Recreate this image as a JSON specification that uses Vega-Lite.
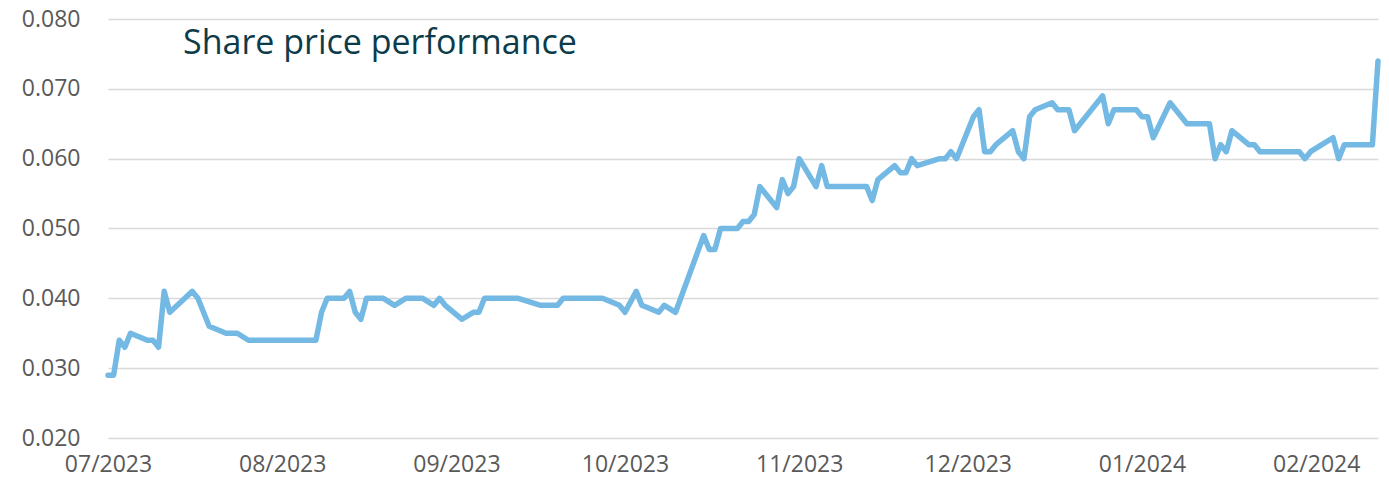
{
  "$schema": "https://vega.github.io/schema/vega-lite/v6.json",
  "width": 1270,
  "height": 419,
  "autosize": {"type": "none"},
  "padding": {"left": 108, "top": 19, "right": 11, "bottom": 40},
  "background": "white",
  "config": {"view": {"stroke": null}, "font": "Open Sans"},
  "title": {
    "text": "Share price performance",
    "anchor": "start",
    "frame": "group",
    "font": "Open Sans",
    "fontSize": 34,
    "fontWeight": "normal",
    "color": "#0c3c4a",
    "baseline": "alphabetic",
    "offset": 0,
    "dx": 75,
    "dy": 80
  },
  "data": {
    "values": [
      {"date": "2023-07-01", "price": 0.029},
      {"date": "2023-07-02", "price": 0.029},
      {"date": "2023-07-03", "price": 0.034},
      {"date": "2023-07-04", "price": 0.033},
      {"date": "2023-07-05", "price": 0.035},
      {"date": "2023-07-08", "price": 0.034},
      {"date": "2023-07-09", "price": 0.034},
      {"date": "2023-07-10", "price": 0.033},
      {"date": "2023-07-11", "price": 0.041},
      {"date": "2023-07-12", "price": 0.038},
      {"date": "2023-07-16", "price": 0.041},
      {"date": "2023-07-17", "price": 0.040},
      {"date": "2023-07-19", "price": 0.036},
      {"date": "2023-07-22", "price": 0.035},
      {"date": "2023-07-24", "price": 0.035},
      {"date": "2023-07-26", "price": 0.034},
      {"date": "2023-08-07", "price": 0.034},
      {"date": "2023-08-08", "price": 0.038},
      {"date": "2023-08-09", "price": 0.040},
      {"date": "2023-08-12", "price": 0.040},
      {"date": "2023-08-13", "price": 0.041},
      {"date": "2023-08-14", "price": 0.038},
      {"date": "2023-08-15", "price": 0.037},
      {"date": "2023-08-16", "price": 0.040},
      {"date": "2023-08-19", "price": 0.040},
      {"date": "2023-08-21", "price": 0.039},
      {"date": "2023-08-23", "price": 0.040},
      {"date": "2023-08-26", "price": 0.040},
      {"date": "2023-08-28", "price": 0.039},
      {"date": "2023-08-29", "price": 0.040},
      {"date": "2023-08-30", "price": 0.039},
      {"date": "2023-09-02", "price": 0.037},
      {"date": "2023-09-04", "price": 0.038},
      {"date": "2023-09-05", "price": 0.038},
      {"date": "2023-09-06", "price": 0.040},
      {"date": "2023-09-12", "price": 0.040},
      {"date": "2023-09-16", "price": 0.039},
      {"date": "2023-09-19", "price": 0.039},
      {"date": "2023-09-20", "price": 0.040},
      {"date": "2023-09-27", "price": 0.040},
      {"date": "2023-09-30", "price": 0.039},
      {"date": "2023-10-01", "price": 0.038},
      {"date": "2023-10-03", "price": 0.041},
      {"date": "2023-10-04", "price": 0.039},
      {"date": "2023-10-07", "price": 0.038},
      {"date": "2023-10-08", "price": 0.039},
      {"date": "2023-10-10", "price": 0.038},
      {"date": "2023-10-15", "price": 0.049},
      {"date": "2023-10-16", "price": 0.047},
      {"date": "2023-10-17", "price": 0.047},
      {"date": "2023-10-18", "price": 0.050},
      {"date": "2023-10-21", "price": 0.050},
      {"date": "2023-10-22", "price": 0.051},
      {"date": "2023-10-23", "price": 0.051},
      {"date": "2023-10-24", "price": 0.052},
      {"date": "2023-10-25", "price": 0.056},
      {"date": "2023-10-28", "price": 0.053},
      {"date": "2023-10-29", "price": 0.057},
      {"date": "2023-10-30", "price": 0.055},
      {"date": "2023-10-31", "price": 0.056},
      {"date": "2023-11-01", "price": 0.060},
      {"date": "2023-11-04", "price": 0.056},
      {"date": "2023-11-05", "price": 0.059},
      {"date": "2023-11-06", "price": 0.056},
      {"date": "2023-11-13", "price": 0.056},
      {"date": "2023-11-14", "price": 0.054},
      {"date": "2023-11-15", "price": 0.057},
      {"date": "2023-11-18", "price": 0.059},
      {"date": "2023-11-19", "price": 0.058},
      {"date": "2023-11-20", "price": 0.058},
      {"date": "2023-11-21", "price": 0.060},
      {"date": "2023-11-22", "price": 0.059},
      {"date": "2023-11-26", "price": 0.060},
      {"date": "2023-11-27", "price": 0.060},
      {"date": "2023-11-28", "price": 0.061},
      {"date": "2023-11-29", "price": 0.060},
      {"date": "2023-12-02", "price": 0.066},
      {"date": "2023-12-03", "price": 0.067},
      {"date": "2023-12-04", "price": 0.061},
      {"date": "2023-12-05", "price": 0.061},
      {"date": "2023-12-06", "price": 0.062},
      {"date": "2023-12-09", "price": 0.064},
      {"date": "2023-12-10", "price": 0.061},
      {"date": "2023-12-11", "price": 0.060},
      {"date": "2023-12-12", "price": 0.066},
      {"date": "2023-12-13", "price": 0.067},
      {"date": "2023-12-16", "price": 0.068},
      {"date": "2023-12-17", "price": 0.067},
      {"date": "2023-12-19", "price": 0.067},
      {"date": "2023-12-20", "price": 0.064},
      {"date": "2023-12-25", "price": 0.069},
      {"date": "2023-12-26", "price": 0.065},
      {"date": "2023-12-27", "price": 0.067},
      {"date": "2023-12-31", "price": 0.067},
      {"date": "2024-01-01", "price": 0.066},
      {"date": "2024-01-02", "price": 0.066},
      {"date": "2024-01-03", "price": 0.063},
      {"date": "2024-01-06", "price": 0.068},
      {"date": "2024-01-09", "price": 0.065},
      {"date": "2024-01-13", "price": 0.065},
      {"date": "2024-01-14", "price": 0.060},
      {"date": "2024-01-15", "price": 0.062},
      {"date": "2024-01-16", "price": 0.061},
      {"date": "2024-01-17", "price": 0.064},
      {"date": "2024-01-20", "price": 0.062},
      {"date": "2024-01-21", "price": 0.062},
      {"date": "2024-01-22", "price": 0.061},
      {"date": "2024-01-29", "price": 0.061},
      {"date": "2024-01-30", "price": 0.060},
      {"date": "2024-01-31", "price": 0.061},
      {"date": "2024-02-02", "price": 0.062},
      {"date": "2024-02-04", "price": 0.063},
      {"date": "2024-02-05", "price": 0.060},
      {"date": "2024-02-06", "price": 0.062},
      {"date": "2024-02-11", "price": 0.062},
      {"date": "2024-02-12", "price": 0.074}
    ]
  },
  "mark": {
    "type": "line",
    "color": "#74b9e4",
    "strokeWidth": 5.5,
    "strokeJoin": "round",
    "strokeCap": "round"
  },
  "encoding": {
    "x": {
      "field": "date",
      "type": "temporal",
      "scale": {"type": "utc", "nice": false},
      "axis": {
        "title": null,
        "format": "%m/%Y",
        "values": [
          {"year": 2023, "month": 7, "date": 1, "utc": true},
          {"year": 2023, "month": 8, "date": 1, "utc": true},
          {"year": 2023, "month": 9, "date": 1, "utc": true},
          {"year": 2023, "month": 10, "date": 1, "utc": true},
          {"year": 2023, "month": 11, "date": 1, "utc": true},
          {"year": 2023, "month": 12, "date": 1, "utc": true},
          {"year": 2024, "month": 1, "date": 1, "utc": true},
          {"year": 2024, "month": 2, "date": 1, "utc": true}
        ],
        "grid": false,
        "domain": false,
        "ticks": false,
        "tickSize": 0,
        "labelFont": "Open Sans",
        "labelFontSize": 23,
        "labelColor": "#595959",
        "labelPadding": 15,
        "labelFlush": false,
        "labelOverlap": false
      }
    },
    "y": {
      "field": "price",
      "type": "quantitative",
      "scale": {"domain": [0.02, 0.08], "nice": false, "zero": false},
      "axis": {
        "title": null,
        "values": [0.02, 0.03, 0.04, 0.05, 0.06, 0.07, 0.08],
        "format": ".3f",
        "domain": false,
        "ticks": false,
        "tickSize": 0,
        "grid": true,
        "gridColor": "#d9d9d9",
        "gridWidth": 1.5,
        "labelFont": "Open Sans",
        "labelFontSize": 23,
        "labelColor": "#595959",
        "labelPadding": 28
      }
    }
  }
}
